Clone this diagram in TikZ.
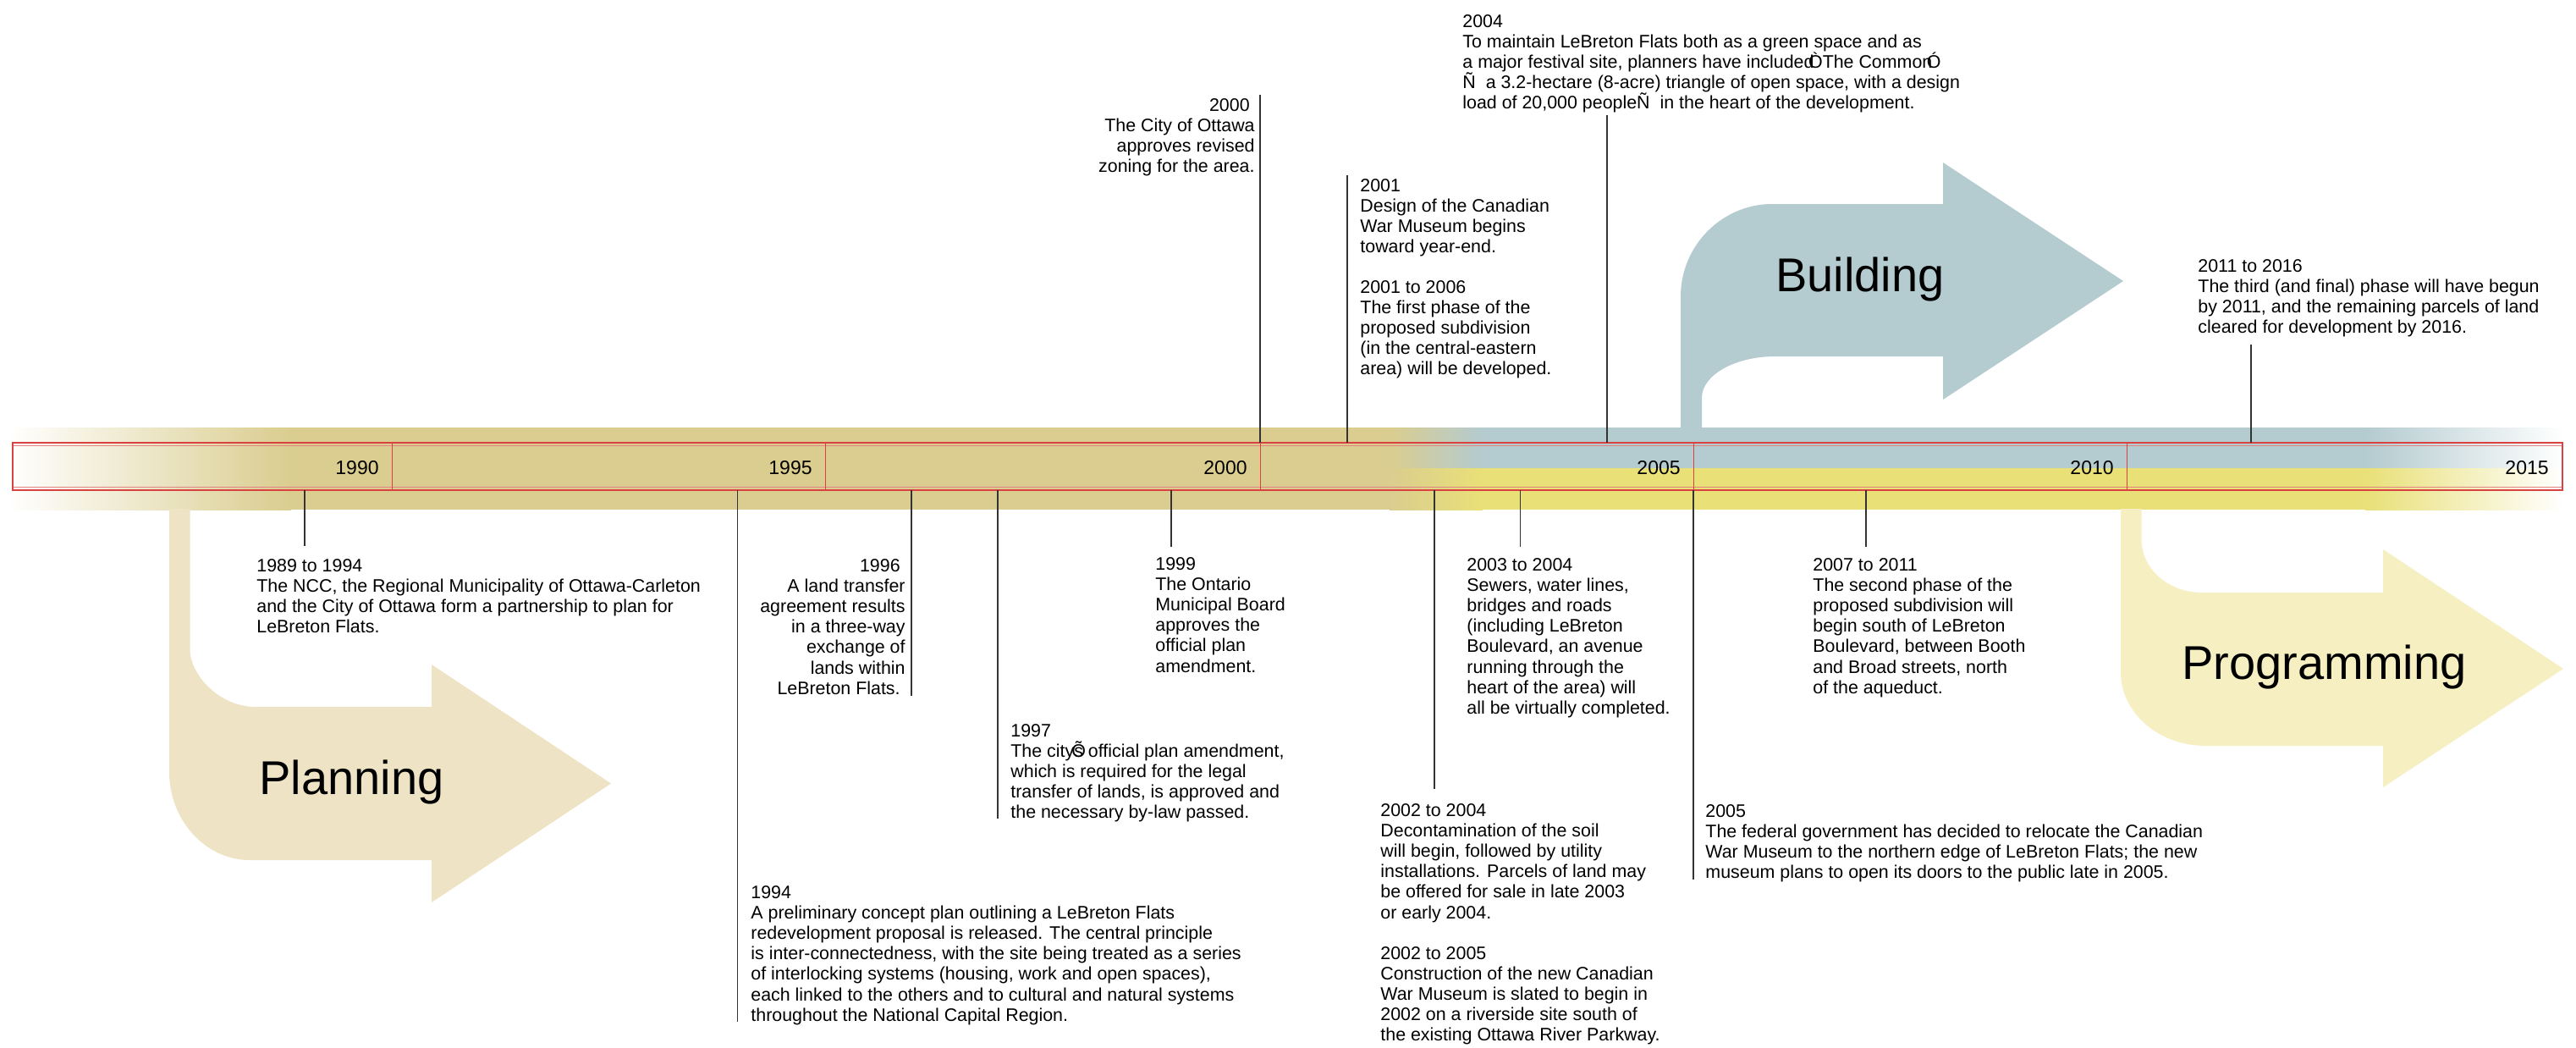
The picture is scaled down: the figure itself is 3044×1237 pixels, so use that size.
\documentclass[tikz,border=0pt]{standalone}
\usepackage{fontspec}
\setmainfont{Liberation Sans}
\definecolor{bandbeige}{RGB}{218,205,143}
\definecolor{bandblue}{RGB}{180,203,208}
\definecolor{bandyellow}{RGB}{233,224,120}
\definecolor{planfill}{RGB}{238,228,197}
\definecolor{progfill}{RGB}{246,239,193}
\definecolor{framered}{RGB}{218,66,66}
\definecolor{framelight}{RGB}{228,130,130}
\newcommand\trsp{\hspace*{0.278em}}
\newcommand\firstln{\rule{0pt}{9pt}}
\begin{document}
\begin{tikzpicture}[x=0.5pt,y=-0.5pt,
  tickline/.style={draw=black!80,line width=0.6pt},
  body/.style={inner sep=0pt,font=\fontsize{10.7}{12.1}\selectfont,yshift=5.17pt},
  lbody/.style={body,anchor=north west,align=left},
  rbody/.style={body,anchor=north east,align=right},
  yearlbl/.style={inner sep=0pt,anchor=base east,font=\fontsize{11.5}{13}\selectfont},
  biglbl/.style={inner sep=0pt,anchor=base west,font=\fontsize{28}{30}\selectfont},
  divider/.style={draw=framered,line width=0.5pt}]
\useasboundingbox (0,0) rectangle (3044,1237);
\fill[white] (0,0) rectangle (3044,1237);

% ---- band ----
\fill[bandbeige] (343,505) rectangle (1643,602);
\shade[left color=white,right color=bandbeige] (10,505) rectangle (344,602);
\shade[left color=bandbeige,right color=bandblue] (1642,505) rectangle (1752,553);
\shade[left color=bandbeige,right color=bandyellow] (1642,553) rectangle (1752,602);
\fill[bandblue] (1751,505) rectangle (2796,553);
\fill[bandyellow] (1751,553) rectangle (2796,602);
\shade[left color=bandblue,right color=white] (2795,505) rectangle (3030,553);
\shade[left color=bandyellow,right color=white] (2795,553) rectangle (3030,602);

% ---- frame ----
\draw[framelight,line width=0.9pt] (15,526.5) -- (3028,526.5) (15,575.5) -- (3028,575.5);
\draw[framered,line width=1.1pt] (15,523) rectangle (3028,579);
\foreach \d in {463,975,1489,2001,2513} \draw[divider] (\d,523) -- (\d,579);

% ---- year labels ----
\node[yearlbl] (y1990) at (448,560) {1990};
\node[yearlbl] (y1995) at (960,560) {1995};
\node[yearlbl] (y2000) at (1474,560) {2000};
\node[yearlbl] (y2005) at (1986,560) {2005};
\node[yearlbl] (y2010) at (2498,560) {2010};
\node[yearlbl] (y2015) at (3012,560) {2015};

% ---- phase arrows ----
\fill[planfill] (200,601) -- (200,912) .. controls (200,969) and (243,1016) .. (295,1016)
  -- (510,1016) -- (510,1066) -- (722,925.5) -- (510,785) -- (510,835) -- (302,835)
  .. controls (259,835) and (224.5,797) .. (224.5,767) -- (224.5,601) -- cycle;
\fill[bandblue] (1986,505) -- (1986,350) .. controls (1986,290) and (2035,241) .. (2094,241)
  -- (2296,241) -- (2296,192) -- (2509,332) -- (2296,472) -- (2296,421) -- (2098,421)
  .. controls (2050,421) and (2011,443) .. (2011,470) -- (2011,505) -- cycle;
\fill[progfill] (2506,601) -- (2506,794) .. controls (2506,842) and (2551,881) .. (2606,881)
  -- (2816,881) -- (2816,930) -- (3029,790) -- (2816,649) -- (2816,700) -- (2602,700)
  .. controls (2562,700) and (2530.5,672) .. (2530.5,637) -- (2530.5,601) -- cycle;
\node[biglbl] (lplan) at (306,938.5) {Planning};
\node[biglbl] (lbuild) at (2098,344) {Building};
\node[biglbl] (lprog) at (2578,802) {Programming};

% ---- tick coordinates ----
\coordinate (a1989) at (360,579);   \coordinate (b1989) at (360,645);
\coordinate (a1994) at (871.6,579); \coordinate (b1994) at (871.6,1207);
\coordinate (a1996) at (1077,579);  \coordinate (b1996) at (1077,822);
\coordinate (a1997) at (1179,579);  \coordinate (b1997) at (1179,967);
\coordinate (a1999) at (1384,579);  \coordinate (b1999) at (1384,646);
\coordinate (a2002) at (1695,579);  \coordinate (b2002) at (1695,932);
\coordinate (a2003) at (1796.5,579);\coordinate (b2003) at (1796.5,646);
\coordinate (a2005) at (2001,579);  \coordinate (b2005) at (2001,1039);
\coordinate (a2007) at (2205,579);  \coordinate (b2007) at (2205,646);
\coordinate (a2000) at (1489,523);  \coordinate (b2000) at (1489,112);
\coordinate (a2001) at (1592,523);  \coordinate (b2001) at (1592,207);
\coordinate (a2004) at (1899,523);  \coordinate (b2004) at (1899,136);
\coordinate (a2011) at (2660,523);  \coordinate (b2011) at (2660,407);
\foreach \t in {1989,1994,1996,1997,1999,2002,2003,2005,2007,2000,2001,2004,2011}
  \draw[tickline] (a\t) -- (b\t);

% ---- texts ----
\node[lbody] (n1989) at (303,667) {\firstln 1989 to 1994\\The NCC, the Regional Municipality of Ottawa-Carleton\\and the City of Ottawa form a partnership to plan for\\LeBreton Flats.};
\node[rbody] (n1996) at (1070,667) {\firstln 1996\trsp\\A land transfer\trsp\\agreement results\\in a three-way\trsp\\exchange of\\lands within\trsp\\LeBreton Flats.\trsp};
\node[lbody] (n1994) at (887,1053) {\firstln 1994\\A preliminary concept plan outlining a LeBreton Flats\\redevelopment proposal is released. The central principle\\is inter-connectedness, with the site being treated as a series\\of interlocking systems (housing, work and open spaces),\\each linked to the others and to cultural and natural systems\\throughout the National Capital Region.};
\node[lbody] (n1997) at (1194,862) {\firstln 1997\\The city\makebox[0pt][l]{\kern-0.14emÕ}s official plan amendment,\\which is required for the legal\\transfer of lands, is approved and\\the necessary by-law passed.};
\node[lbody] (n1999) at (1365,665) {\firstln 1999\\The Ontario\\Municipal Board\\approves the\\official plan\\amendment.};
\node[rbody] (n2000) at (1483,123) {\firstln 2000\trsp\\The City of Ottawa\trsp\\approves revised\\zoning for the area.};
\node[lbody] (n2001) at (1607,218) {\firstln 2001\\Design of the Canadian\\War Museum begins\\toward year-end.};
\node[lbody] (n2001b) at (1607,338) {\firstln 2001 to 2006\\The first phase of the\\proposed subdivision\\(in the central-eastern\\area) will be developed.};
\node[lbody] (n2004) at (1728,24) {\firstln 2004\\To maintain LeBreton Flats both as a green space and as\\a major festival site, planners have included\kern-0.3emÒThe Common\kern-0.3emÓ\\Ñ\ \ a 3.2-hectare (8-acre) triangle of open space, with a design\\load of 20,000 peopleÑ\ \ in the heart of the development.};
\node[lbody] (n2011) at (2597,313) {\firstln 2011 to 2016\\The third (and final) phase will have begun\\by 2011, and the remaining parcels of land\\cleared for development by 2016.};
\node[lbody] (n2002) at (1631,956) {\firstln 2002 to 2004\\Decontamination of the soil\\will begin, followed by utility\\installations. Parcels of land may\\be offered for sale in late 2003\\or early 2004.};
\node[lbody] (n2002b) at (1631,1125) {\firstln 2002 to 2005\\Construction of the new Canadian\\War Museum is slated to begin in\\2002 on a riverside site south of\\the existing Ottawa River Parkway.};
\node[lbody] (n2003) at (1733,666) {\firstln 2003 to 2004\\Sewers, water lines,\\bridges and roads\\(including LeBreton\\Boulevard, an avenue\\running through the\\heart of the area) will\\all be virtually completed.};
\node[lbody] (n2005) at (2015,957) {\firstln 2005\\The federal government has decided to relocate the Canadian\\War Museum to the northern edge of LeBreton Flats; the new\\museum plans to open its doors to the public late in 2005.};
\node[lbody] (n2007) at (2142,666) {\firstln 2007 to 2011\\The second phase of the\\proposed subdivision will\\begin south of LeBreton\\Boulevard, between Booth\\and Broad streets, north\\of the aqueduct.};
\end{tikzpicture}
\end{document}
